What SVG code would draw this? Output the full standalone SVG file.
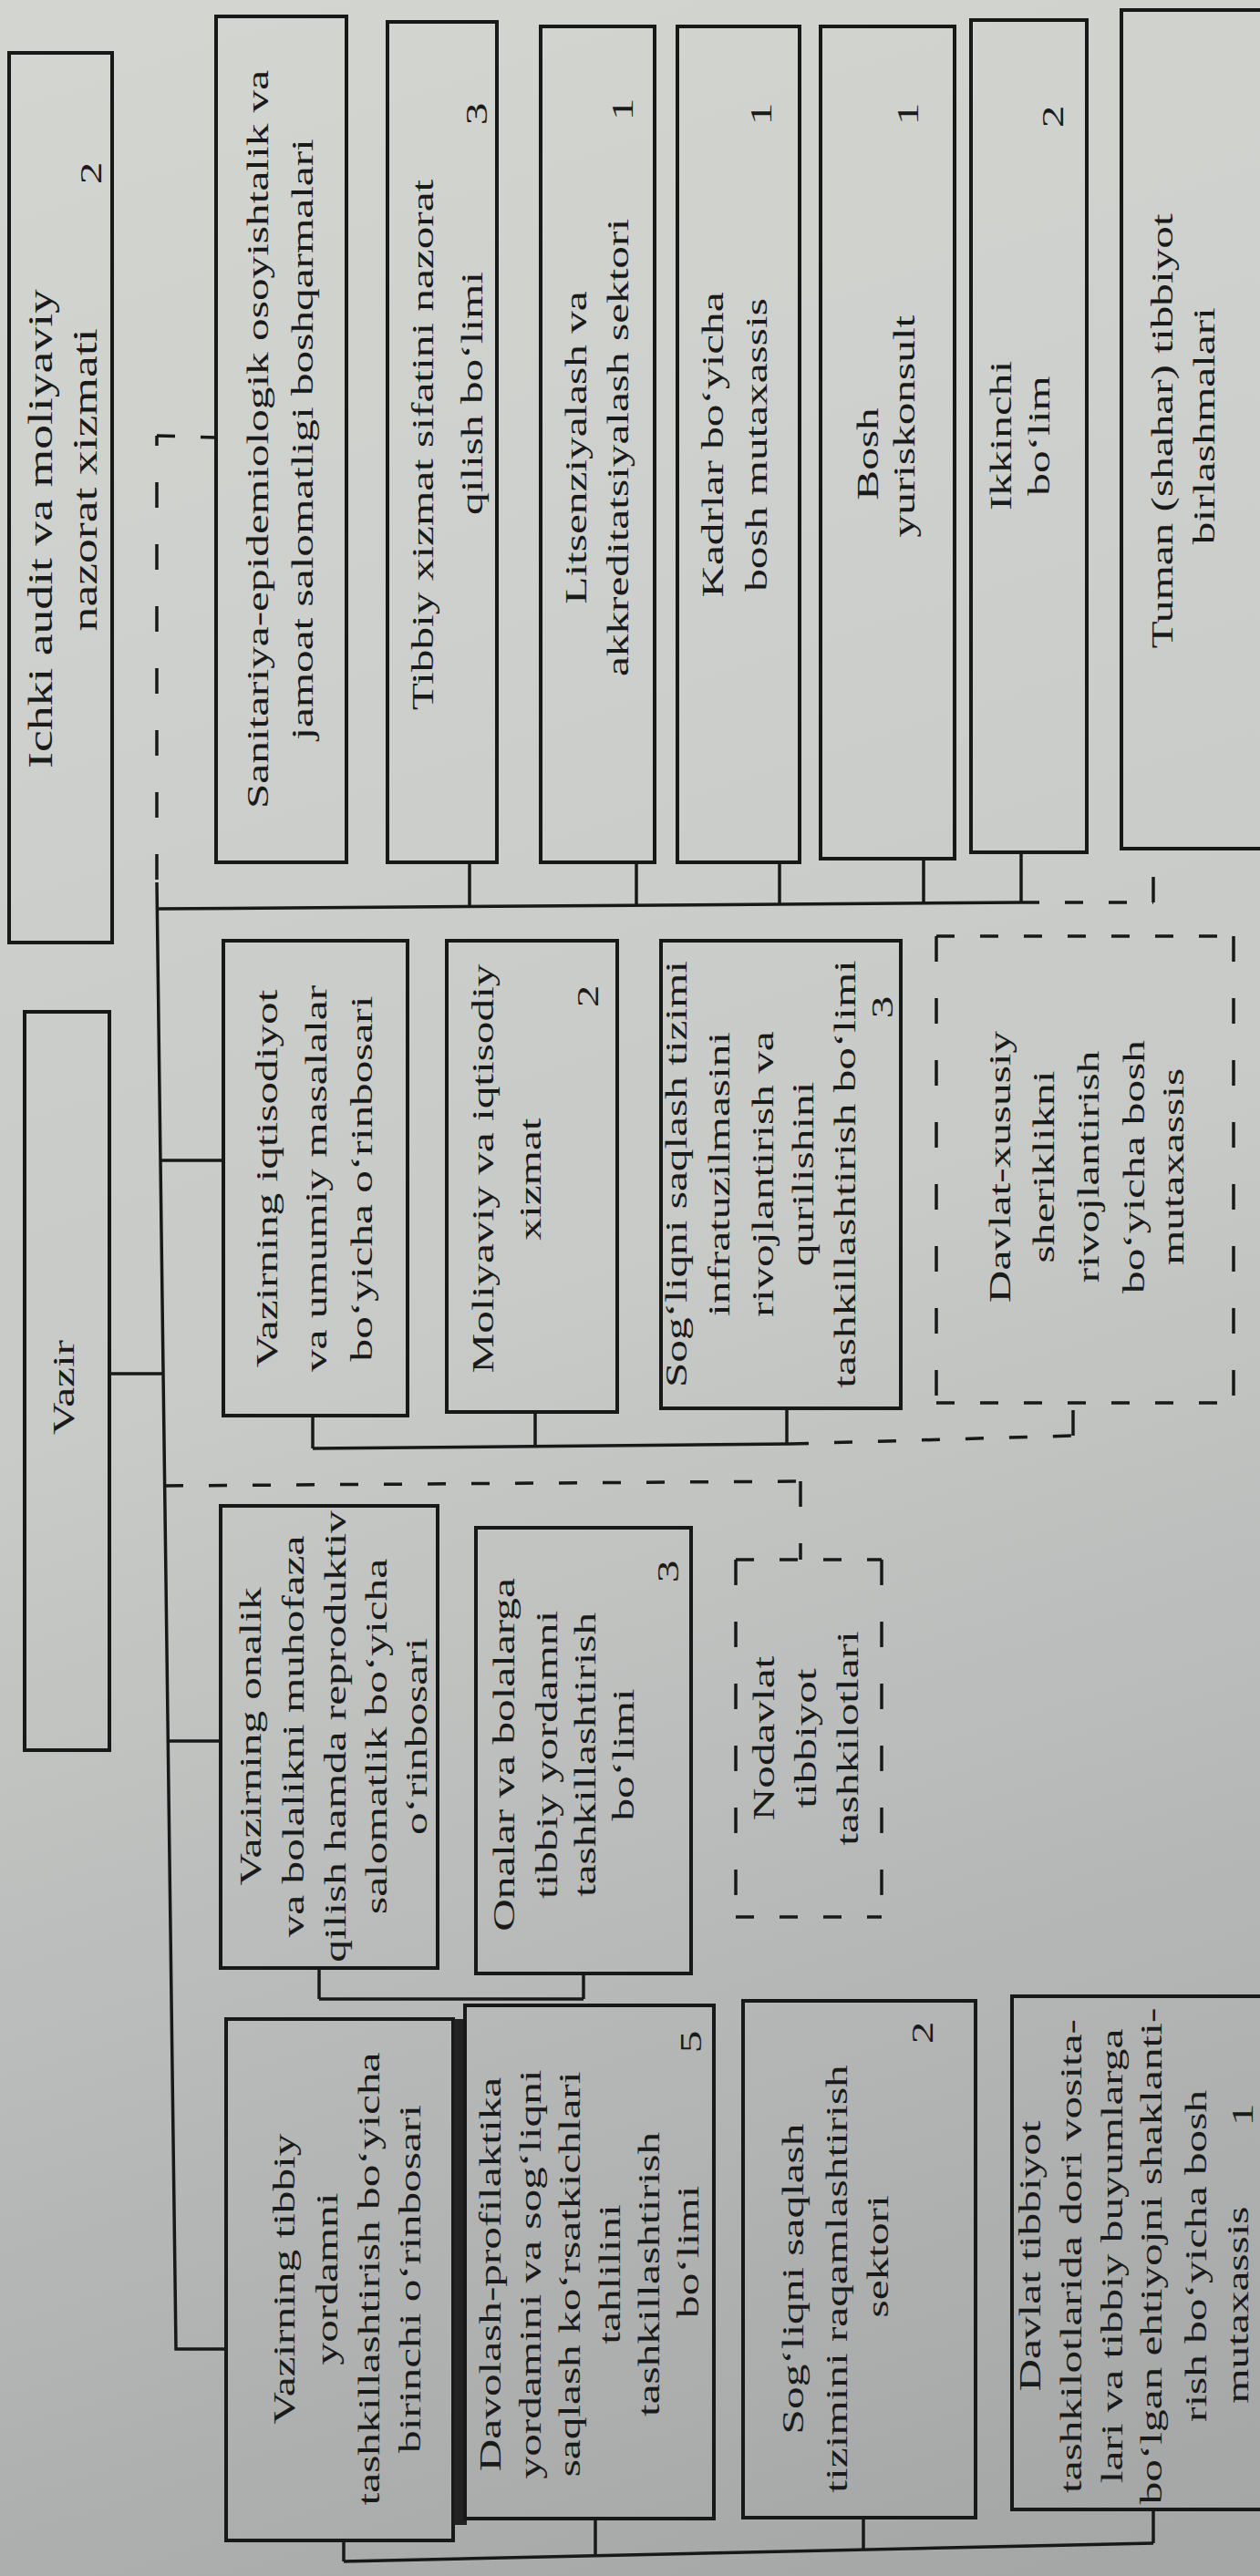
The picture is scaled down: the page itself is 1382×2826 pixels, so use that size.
<svg xmlns="http://www.w3.org/2000/svg" width="1382" height="2826" viewBox="0 0 1382 2826">
<defs>
<linearGradient id="bg" gradientUnits="userSpaceOnUse" x1="200" y1="0" x2="1100" y2="2826">
<stop offset="0" stop-color="#d3d5d1"/>
<stop offset="0.5" stop-color="#c7cac7"/>
<stop offset="1" stop-color="#a4a7a6"/>
</linearGradient>
</defs>
<style>
.box{fill:none;stroke:#181818;stroke-width:4}
.ln{fill:none;stroke:#181818;stroke-width:3.5}
.dh{fill:none;stroke:#181818;stroke-width:3.5;stroke-dasharray:20 28}
.dv{fill:none;stroke:#181818;stroke-width:3.5;stroke-dasharray:28 40}
.t{font-family:"Liberation Serif","Times New Roman",serif;font-size:34px;fill:#1a1a1a;text-anchor:middle}
.big{font-size:37px}
</style>
<rect width="1382" height="2826" fill="url(#bg)"/>

<g id="connectors">
<polyline class="ln" points="172,968 193,2577 248,2577"/>
<line class="ln" x1="120" y1="1507" x2="179" y2="1507"/>
<line class="ln" x1="176" y1="1273" x2="245" y2="1273"/>
<line class="ln" x1="184" y1="1910" x2="242" y2="1910"/>
<line class="ln" x1="172" y1="997" x2="1120" y2="990"/>
<line class="ln" x1="515" y1="946" x2="515" y2="995"/>
<line class="ln" x1="698" y1="946" x2="698" y2="994"/>
<line class="ln" x1="855" y1="946" x2="855" y2="993"/>
<line class="ln" x1="1013" y1="942" x2="1013" y2="991"/>
<line class="ln" x1="1120" y1="935" x2="1120" y2="990"/>
<line class="dh" x1="1120" y1="990" x2="1265" y2="990"/>
<line class="dv" x1="1265" y1="990" x2="1265" y2="931"/>
<line class="dv" x1="172" y1="965" x2="172" y2="478"/>
<line class="dh" x1="172" y1="478" x2="237" y2="480"/>
<line class="ln" x1="343" y1="1553" x2="343" y2="1589"/>
<line class="ln" x1="343" y1="1589" x2="867" y2="1584"/>
<line class="ln" x1="587" y1="1549" x2="587" y2="1586"/>
<line class="ln" x1="863" y1="1545" x2="863" y2="1584"/>
<line class="dh" x1="867" y1="1584" x2="1177" y2="1575"/>
<line class="dv" x1="1177" y1="1575" x2="1177" y2="1539"/>
<line class="dh" x1="181" y1="1630" x2="878" y2="1625"/>
<line class="dv" x1="878" y1="1625" x2="878" y2="1711"/>
<line class="ln" x1="350" y1="2159" x2="350" y2="2193"/>
<line class="ln" x1="350" y1="2193" x2="640" y2="2193"/>
<line class="ln" x1="640" y1="2165" x2="640" y2="2193"/>
<line class="ln" x1="377" y1="2787" x2="377" y2="2810"/>
<line class="ln" x1="377" y1="2810" x2="1265" y2="2790"/>
<line class="ln" x1="653" y1="2763" x2="653" y2="2804"/>
<line class="ln" x1="947" y1="2762" x2="947" y2="2797"/>
<line class="ln" x1="1265" y1="2753" x2="1265" y2="2790"/>
</g>

<g id="ichki-audit">
<rect class="box" x="10" y="58" width="113" height="976"/>
<text class="t big" transform="translate(0,580) rotate(-90) scale(1.45 1)"><tspan x="0" y="57">Ichki audit va moliyaviy</tspan><tspan x="37" y="106">nazorat xizmati</tspan></text>
<text class="t" transform="translate(0,190) rotate(-90) scale(1.45 1)"><tspan x="0" y="111">2</tspan></text>
</g>

<g id="vazir">
<rect class="box" x="27" y="1110" width="93" height="810"/>
<text class="t" transform="translate(0,1522) rotate(-90) scale(1.45 1)"><tspan x="0" y="81">Vazir</tspan></text>
</g>

<g id="sanitariya">
<rect class="box" x="237" y="18" width="143" height="928"/>
<text class="t" transform="translate(0,482) rotate(-90) scale(1.45 1)"><tspan x="0" y="294">Sanitariya-epidemiologik osoyishtalik va</tspan><tspan x="0" y="343">jamoat salomatligi boshqarmalari</tspan></text>
</g>

<g id="tibbiy-xizmat">
<rect class="box" x="425" y="24" width="120" height="922"/>
<text class="t" transform="translate(0,488) rotate(-90) scale(1.45 1)"><tspan x="0" y="475">Tibbiy xizmat sifatini nazorat</tspan><tspan x="39" y="529">qilish bo‘limi</tspan></text>
<text class="t" transform="translate(0,125) rotate(-90) scale(1.45 1)"><tspan x="0" y="534">3</tspan></text>
</g>

<g id="litsenziyalash">
<rect class="box" x="593" y="29" width="125" height="917"/>
<text class="t" transform="translate(0,491) rotate(-90) scale(1.45 1)"><tspan x="0" y="643">Litsenziyalash va</tspan><tspan x="0" y="689">akkreditatsiyalash sektori</tspan></text>
<text class="t" transform="translate(0,120) rotate(-90) scale(1.45 1)"><tspan x="0" y="694">1</tspan></text>
</g>

<g id="kadrlar">
<rect class="box" x="743" y="29" width="134" height="917"/>
<text class="t" transform="translate(0,488) rotate(-90) scale(1.45 1)"><tspan x="0" y="793">Kadrlar bo‘yicha</tspan><tspan x="0" y="841">bosh mutaxassis</tspan></text>
<text class="t" transform="translate(0,125) rotate(-90) scale(1.45 1)"><tspan x="0" y="846">1</tspan></text>
</g>

<g id="yuriskonsult">
<rect class="box" x="900" y="29" width="147" height="913"/>
<text class="t" transform="translate(0,498) rotate(-90) scale(1.45 1)"><tspan x="0" y="963">Bosh</tspan><tspan x="21" y="1003">yuriskonsult</tspan></text>
<text class="t" transform="translate(0,125) rotate(-90) scale(1.45 1)"><tspan x="0" y="1007">1</tspan></text>
</g>

<g id="ikkinchi">
<rect class="box" x="1065" y="22" width="127" height="913"/>
<text class="t" transform="translate(0,478) rotate(-90) scale(1.45 1)"><tspan x="0" y="1109">Ikkinchi</tspan><tspan x="0" y="1151">bo‘lim</tspan></text>
<text class="t" transform="translate(0,128) rotate(-90) scale(1.45 1)"><tspan x="0" y="1166">2</tspan></text>
</g>

<g id="tuman">
<rect class="box" x="1230" y="11" width="170" height="920"/>
<text class="t" transform="translate(0,473) rotate(-90) scale(1.45 1)"><tspan x="0" y="1286">Tuman (shahar) tibbiyot</tspan><tspan x="4" y="1332">birlashmalari</tspan></text>
</g>

<g id="iqtisodiyot">
<rect class="box" x="245" y="1032" width="202" height="521"/>
<text class="t" transform="translate(0,1293) rotate(-90) scale(1.45 1)"><tspan x="0" y="304">Vazirning iqtisodiyot</tspan><tspan x="0" y="358">va umumiy masalalar</tspan><tspan x="0" y="408">bo‘yicha o‘rinbosari</tspan></text>
</g>

<g id="moliyaviy">
<rect class="box" x="490" y="1032" width="187" height="517"/>
<text class="t" transform="translate(0,1282) rotate(-90) scale(1.45 1)"><tspan x="0" y="541">Moliyaviy va iqtisodiy</tspan><tspan x="-8" y="593">xizmat</tspan></text>
<text class="t" transform="translate(0,1093) rotate(-90) scale(1.45 1)"><tspan x="0" y="656">2</tspan></text>
</g>

<g id="infratuzilma">
<rect class="box" x="725" y="1032" width="263" height="513"/>
<text class="t" transform="translate(0,1288) rotate(-90) scale(1.45 1)"><tspan x="0" y="753">Sog‘liqni saqlash tizimi</tspan><tspan x="0" y="800">infratuzilmasini</tspan><tspan x="0" y="848">rivojlantirish va</tspan><tspan x="0" y="892">qurilishini</tspan><tspan x="0" y="938">tashkillashtirish bo‘limi</tspan></text>
<text class="t" transform="translate(0,1105) rotate(-90) scale(1.45 1)"><tspan x="0" y="979">3</tspan></text>
</g>

<g id="davlat-xususiy">
<line class="dh" x1="1027" y1="1027" x2="1353" y2="1027"/>
<line class="dh" x1="1027" y1="1539" x2="1353" y2="1539"/>
<line class="dv" x1="1027" y1="1027" x2="1027" y2="1539"/>
<line class="dv" x1="1353" y1="1027" x2="1353" y2="1539"/>
<text class="t" transform="translate(0,1280) rotate(-90) scale(1.45 1)"><tspan x="0" y="1108">Davlat-xususiy</tspan><tspan x="0" y="1156">sheriklikni</tspan><tspan x="0" y="1205">rivojlantirish</tspan><tspan x="0" y="1255">bo‘yicha bosh</tspan><tspan x="0" y="1298">mutaxassis</tspan></text>
</g>

<g id="onalik">
<rect class="box" x="242" y="1652" width="238" height="507"/>
<text class="t" transform="translate(0,1905) rotate(-90) scale(1.45 1)"><tspan x="0" y="286">Vazirning onalik</tspan><tspan x="0" y="333">va bolalikni muhofaza</tspan><tspan x="0" y="379">qilish hamda reproduktiv</tspan><tspan x="0" y="424">salomatlik bo‘yicha</tspan><tspan x="0" y="468">o‘rinbosari</tspan></text>
</g>

<g id="onalar">
<rect class="box" x="522" y="1676" width="236" height="489"/>
<text class="t" transform="translate(0,1925) rotate(-90) scale(1.45 1)"><tspan x="0" y="564">Onalar va bolalarga</tspan><tspan x="0" y="611">tibbiy yordamni</tspan><tspan x="0" y="653">tashkillashtirish</tspan><tspan x="0" y="695">bo‘limi</tspan></text>
<text class="t" transform="translate(0,1724) rotate(-90) scale(1.45 1)"><tspan x="0" y="744">3</tspan></text>
</g>

<g id="nodavlat">
<line class="dh" x1="807" y1="1711" x2="967" y2="1711"/>
<line class="dh" x1="807" y1="2103" x2="967" y2="2103"/>
<line class="dv" x1="807" y1="1711" x2="807" y2="2103"/>
<line class="dv" x1="967" y1="1711" x2="967" y2="2103"/>
<text class="t" transform="translate(0,1907) rotate(-90) scale(1.45 1)"><tspan x="0" y="849">Nodavlat</tspan><tspan x="0" y="895">tibbiyot</tspan><tspan x="0" y="941">tashkilotlari</tspan></text>
</g>

<g id="tibbiy-orinbosar">
<rect class="box" x="248" y="2215" width="249" height="572"/>
<text class="t" transform="translate(0,2500) rotate(-90) scale(1.45 1)"><tspan x="0" y="323">Vazirning tibbiy</tspan><tspan x="0" y="370">yordamni</tspan><tspan x="0" y="416">tashkillashtirish bo‘yicha</tspan><tspan x="0" y="461">birinchi o‘rinbosari</tspan></text>
</g>

<g id="davolash">
<rect x="498" y="2215" width="14" height="555" fill="#222"/>
<rect class="box" x="510" y="2200" width="273" height="563"/>
<text class="t" transform="translate(0,2495) rotate(-90) scale(1.45 1)"><tspan x="0" y="549">Davolash-profilaktika</tspan><tspan x="0" y="593">yordamini va sog‘liqni</tspan><tspan x="0" y="636">saqlash ko‘rsatkichlari</tspan><tspan x="0" y="680">tahlilini</tspan><tspan x="0" y="723">tashkillashtirish</tspan><tspan x="17" y="766">bo‘limi</tspan></text>
<text class="t" transform="translate(0,2240) rotate(-90) scale(1.45 1)"><tspan x="0" y="769">5</tspan></text>
</g>

<g id="raqamlashtirish">
<rect class="box" x="815" y="2195" width="255" height="567"/>
<text class="t" transform="translate(0,2500) rotate(-90) scale(1.45 1)"><tspan x="0" y="881">Sog‘liqni saqlash</tspan><tspan x="0" y="929">tizimini raqamlashtirish</tspan><tspan x="17" y="974">sektori</tspan></text>
<text class="t" transform="translate(0,2230) rotate(-90) scale(1.45 1)"><tspan x="0" y="1023">2</tspan></text>
</g>

<g id="dori-vositalari">
<rect class="box" x="1110" y="2190" width="290" height="563"/>
<text class="t" transform="translate(0,2475) rotate(-90) scale(1.45 1)"><tspan x="0" y="1141">Davlat tibbiyot</tspan><tspan x="0" y="1186">tashkilotlarida dori vosita-</tspan><tspan x="0" y="1231">lari va tibbiy buyumlarga</tspan><tspan x="0" y="1274">bo‘lgan ehtiyojni shaklanti-</tspan><tspan x="0" y="1323">rish bo‘yicha bosh</tspan><tspan x="-37" y="1369">mutaxassis</tspan></text>
<text class="t" transform="translate(0,2320) rotate(-90) scale(1.45 1)"><tspan x="0" y="1374">1</tspan></text>
</g>
</svg>
